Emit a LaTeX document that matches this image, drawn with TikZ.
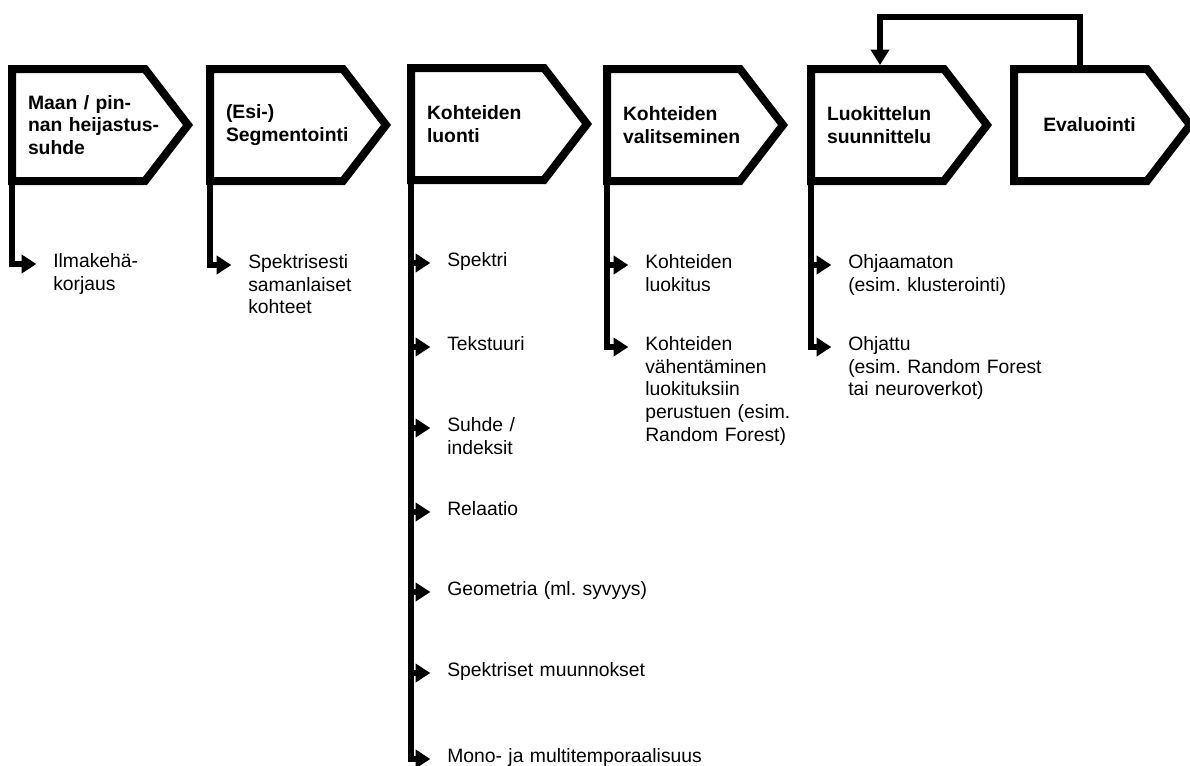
\documentclass[tikz,border=0pt]{standalone}
\usepackage{fontspec}
\setmainfont{Liberation Sans}
\frenchspacing
\usetikzlibrary{arrows.meta}
\tikzset{
  stepbox/.style={rectangle, anchor=west, outer sep=0pt, minimum width=132pt, minimum height=84pt,
    inner xsep=12pt, text width=108pt, align=left, font=\fontsize{14.5}{17}\selectfont\bfseries},
  outline/.style={line width=6pt},
  item/.style={anchor=mid west, inner sep=0pt, text width=210pt, align=left,
    font=\fontsize{14.5}{17}\selectfont},
  branch/.style={line width=5pt, -{Triangle[length=11pt 0 0,width=13.5pt 0 0]}, shorten >=12.5pt},
  backloop/.style={line width=5pt, -{Triangle[length=11.5pt 0 0,width=13.5pt 0 0]}, shorten >=3pt},
}
\begin{document}
\begin{tikzpicture}[x=0.75pt,y=-0.75pt]
\useasboundingbox (0,0) rectangle (1190,765);
\def\tipw{32.25pt}
\node[stepbox] (maan) at (12,125) {Maan / pin-\\nan heijastus-\\suhde};
\node[stepbox] (segm) at (210,125) {(Esi-)\\Segmentointi};
\node[stepbox] (luonti) at (411,124) {Kohteiden\\luonti};
\node[stepbox] (valinta) at (607,125) {Kohteiden\\valitseminen};
\node[stepbox] (luok) at (811,125) {Luokittelun\\suunnittelu};
\node[stepbox] (eval) at (1014,125) {\hspace*{10pt}Evaluointi};
\foreach \n in {maan,segm,luonti,valinta,luok,eval}
  \draw[outline] (\n.north west) -- ([xshift=-\tipw]\n.north east) -- (\n.east) -- ([xshift=-\tipw]\n.south east) -- (\n.south west) -- cycle;
\node[item] (ilmak) at (53,264) {Ilmakehä-\\korjaus};
\node[item] (spsam) at (248,265) {Spektrisesti\\samanlaiset\\kohteet};
\node[item] (spektri) at (447,263) {Spektri};
\node[item] (tekst) at (447,347) {Tekstuuri};
\node[item] (suhde) at (447,428) {Suhde /\\indeksit};
\node[item] (rel) at (447,512) {Relaatio};
\node[item] (geom) at (447,592) {Geometria (ml. syvyys)};
\node[item] (spmuun) at (447,673) {Spektriset muunnokset};
\node[item] (mono) at (447,759) {Mono- ja multitemporaalisuus};
\node[item] (kluok) at (645,265) {Kohteiden\\luokitus};
\node[item] (kvah) at (645,347) {Kohteiden\\vähentäminen\\luokituksiin\\perustuen (esim.\\Random Forest)};
\node[item] (ohjm) at (848,265) {Ohjaamaton\\(esim. klusterointi)};
\node[item] (ohj) at (848,347) {Ohjattu\\(esim. Random Forest\\tai neuroverkot)};
\draw[branch] (maan.south west) |- (ilmak.mid west);
\draw[branch] (segm.south west) |- (spsam.mid west);
\foreach \t in {spektri,tekst,suhde,rel,geom,spmuun,mono}
  \draw[branch] (luonti.south west) |- (\t.mid west);
\draw[branch] (valinta.south west) |- (kluok.mid west);
\draw[branch] (valinta.south west) |- (kvah.mid west);
\draw[branch] (luok.south west) |- (ohjm.mid west);
\draw[branch] (luok.south west) |- (ohj.mid west);
\draw[backloop] ([xshift=-16.5pt]eval.north) -- ++(0,-52) -| ([xshift=-14.25pt]luok.north);
\end{tikzpicture}
\end{document}
